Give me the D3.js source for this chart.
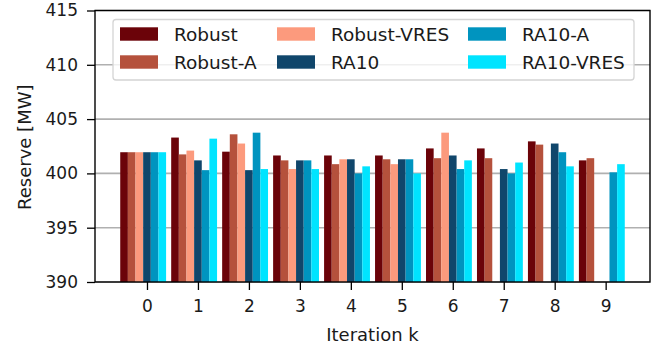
<!DOCTYPE html>
<html>
<head>
    <meta charset="utf-8">
    <script src="https://d3js.org/d3.v7.min.js"></script>
    <style>
        body { margin: 0; background: #fff; }
        svg { display: block; font-family: "DejaVu Sans", sans-serif; }
    </style>
</head>
<body>
    <div id="chart"></div>
    <script>
        // values (null = no bar)
        const iterations = [0, 1, 2, 3, 4, 5, 6, 7, 8, 9];
        const seriesNames = ["Robust", "Robust-A", "Robust-VRES", "RA10", "RA10-A", "RA10-VRES"];
        const robust     = [401.95, 403.3, 402.0, 401.65, 401.65, 401.65, 402.3, 402.3, 402.95, 401.2];
        const robustA    = [401.95, 401.75, 403.6, 401.2, 400.85, 401.3, 401.4, 401.4, 402.65, 401.4];
        const robustVRES = [401.95, 402.1, 402.75, 400.4, 401.3, 400.85, 403.75, null, null, null];
        const ra10       = [401.95, 401.2, 400.3, 401.2, 401.3, 401.3, 401.65, 400.4, 402.75, null];
        const ra10A      = [401.95, 400.3, 403.75, 401.2, 400.0, 401.3, 400.4, 400.0, 401.95, 400.1];
        const ra10VRES   = [401.95, 403.2, 400.4, 400.4, 400.65, 400.0, 401.2, 401.0, 400.65, 400.85];
        const yTicks = [390, 395, 400, 405, 410, 415];

        const allSeries = [robust, robustA, robustVRES, ra10, ra10A, ra10VRES];
        const colors = ["#6b0309", "#b5513c", "#fc9a7d", "#10466b", "#0094bf", "#00e4ff"];
        const barW = 0.15;

        const width = 672, height = 353;
        const plot = { left: 95, right: 650, top: 10.5, bottom: 282 };

        const x = d3.scaleLinear().domain([-1.02, 9.87]).range([plot.left, plot.right]);
        const y = d3.scaleLinear().domain([390, 415]).range([plot.bottom, plot.top]);

        const svg = d3.select("#chart").append("svg")
            .attr("width", width)
            .attr("height", height);

        // grid
        svg.append("g")
            .selectAll("line")
            .data(yTicks)
            .enter().append("line")
            .attr("x1", plot.left).attr("x2", plot.right)
            .attr("y1", d => y(d)).attr("y2", d => y(d))
            .attr("stroke", "#b0b0b0")
            .attr("stroke-width", 1.6);

        // bars
        const bars = [];
        allSeries.forEach((vals, j) => {
            vals.forEach((v, i) => {
                if (v !== null) bars.push({ k: iterations[i], j: j, v: v });
            });
        });
        svg.append("g")
            .selectAll("rect")
            .data(bars)
            .enter().append("rect")
            .attr("x", d => x(d.k + (d.j - 3) * barW - barW / 2))
            .attr("width", d => x(barW) - x(0))
            .attr("y", d => y(d.v))
            .attr("height", d => y(390) - y(d.v))
            .attr("fill", d => colors[d.j]);

        // axes
        const xAxis = svg.append("g")
            .attr("transform", "translate(0," + plot.bottom + ")")
            .call(d3.axisBottom(x).tickValues(iterations).tickSize(8).tickPadding(10).tickSizeOuter(0));
        const yAxis = svg.append("g")
            .attr("transform", "translate(" + plot.left + ",0)")
            .call(d3.axisLeft(y).tickValues(yTicks).tickSize(8).tickPadding(9).tickSizeOuter(0));

        [xAxis, yAxis].forEach(g => {
            g.select(".domain").remove();
            g.selectAll(".tick line").attr("stroke", "#000").attr("stroke-width", 1.3);
            g.selectAll(".tick text")
                .attr("fill", "#1a1a1a")
                .style("font-size", "17px")
                .style("font-family", "DejaVu Sans, sans-serif");
        });

        // frame
        svg.append("rect")
            .attr("x", plot.left).attr("y", plot.top)
            .attr("width", plot.right - plot.left)
            .attr("height", plot.bottom - plot.top)
            .attr("fill", "none")
            .attr("stroke", "#000")
            .attr("stroke-width", 1.4);

        // axis labels
        svg.append("text")
            .attr("x", (plot.left + plot.right) / 2)
            .attr("y", 341)
            .attr("text-anchor", "middle")
            .style("font-size", "18px")
            .attr("fill", "#1a1a1a")
            .text("Iteration k");

        svg.append("text")
            .attr("transform", "translate(31," + ((plot.top + plot.bottom) / 2 + 1) + ") rotate(-90)")
            .attr("text-anchor", "middle")
            .style("font-size", "18px")
            .attr("fill", "#1a1a1a")
            .text("Reserve [MW]");

        // legend
        const legend = svg.append("g");
        legend.append("rect")
            .attr("x", 113).attr("y", 19.5)
            .attr("width", 521).attr("height", 60.5)
            .attr("rx", 3)
            .attr("fill", "#fff").attr("fill-opacity", 0.8)
            .attr("stroke", "#d4d4d4").attr("stroke-width", 1.3);

        const colX = [120, 277, 468];
        const rowY = [27.3, 55.3];
        const items = legend.selectAll("g.item")
            .data(seriesNames)
            .enter().append("g")
            .attr("class", "item")
            .attr("transform", (d, i) => "translate(" + colX[Math.floor(i / 2)] + "," + rowY[i % 2] + ")");
        items.append("rect")
            .attr("width", 38).attr("height", 13.4)
            .attr("fill", (d, i) => colors[i]);
        items.append("text")
            .attr("x", 54).attr("y", 6.7)
            .attr("dy", "0.36em")
            .style("font-size", "18.5px")
            .attr("fill", "#1a1a1a")
            .text(d => d);
    </script>
</body>
</html>
